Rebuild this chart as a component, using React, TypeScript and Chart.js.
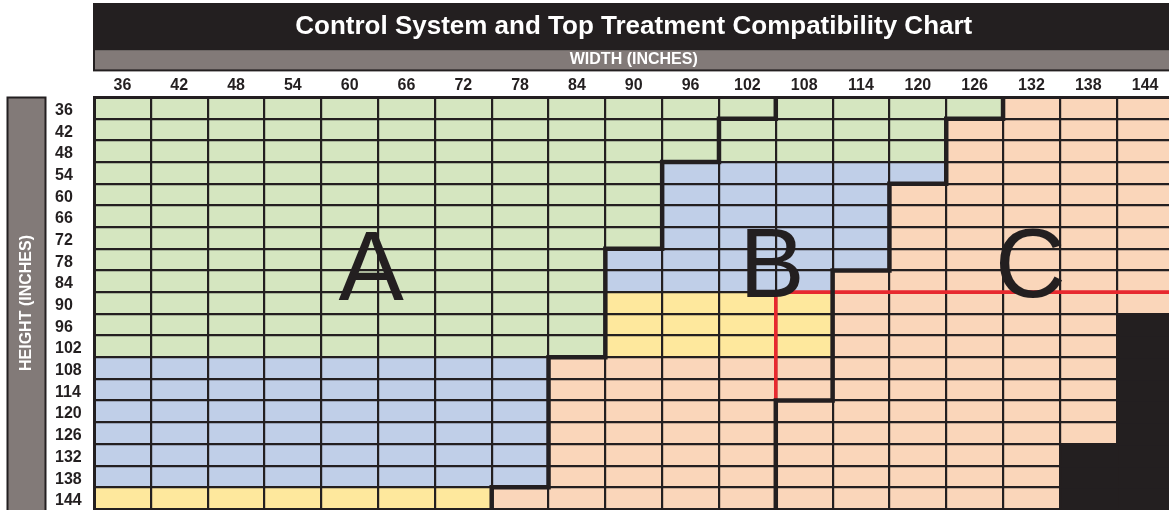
import React, { useEffect, useRef } from 'react';
import { Chart, registerables } from 'chart.js';

Chart.register(...registerables);

// ---- data ----
const widthLabels = [36, 42, 48, 54, 60, 66, 72, 78, 84, 90, 96, 102, 108, 114, 120, 126, 132, 138, 144];
const heightLabels = [36, 42, 48, 54, 60, 66, 72, 78, 84, 90, 96, 102, 108, 114, 120, 126, 132, 138, 144];

// One string per height row, one letter per width column.
// G = green, B = blue, Y = yellow, O = peach, K = black (not available)
const rowZones = [
  'GGGGGGGGGGGGGGGGOOO', // 36
  'GGGGGGGGGGGGGGGOOOO', // 42
  'GGGGGGGGGGGGGGGOOOO', // 48
  'GGGGGGGGGGBBBBBOOOO', // 54
  'GGGGGGGGGGBBBBOOOOO', // 60
  'GGGGGGGGGGBBBBOOOOO', // 66
  'GGGGGGGGGGBBBBOOOOO', // 72
  'GGGGGGGGGBBBBBOOOOO', // 78
  'GGGGGGGGGBBBBOOOOOO', // 84
  'GGGGGGGGGYYYYOOOOOO', // 90
  'GGGGGGGGGYYYYOOOOOK', // 96
  'GGGGGGGGGYYYYOOOOOK', // 102
  'BBBBBBBBOOOOOOOOOOK', // 108
  'BBBBBBBBOOOOOOOOOOK', // 114
  'BBBBBBBBOOOOOOOOOOK', // 120
  'BBBBBBBBOOOOOOOOOOK', // 126
  'BBBBBBBBOOOOOOOOOKK', // 132
  'BBBBBBBBOOOOOOOOOKK', // 138
  'YYYYYYYOOOOOOOOOOKK', // 144
];

// Zone boundaries as [column boundary index, row boundary index]
const boundaryAB = [[12, 0], [12, 1], [11, 1], [11, 3], [10, 3], [10, 7], [9, 7], [9, 12], [8, 12], [8, 18], [7, 18], [7, 19]];
const boundaryBC = [[16, 0], [16, 1], [15, 1], [15, 4], [14, 4], [14, 8], [13, 8], [13, 14], [12, 14], [12, 19]];
const redDivider = [[19, 9], [12, 9], [12, 14]];

// Zone letters: column index (fractional), row boundary value at baseline
const zoneLetterText = ['A', 'B', 'C'];
const zoneLetterCol = [4.38, 11.43, 15.98];
const zoneLetterRow = [9.36, 9.22, 9.22];

const zoneColors: Record<string, string> = {
  G: '#d5e6c0',
  B: '#c0cfe8',
  Y: '#fee89d',
  O: '#fad6ba',
  K: '#231f20',
};

const DARK = '#231f20';
const GREY = '#827a78';
const RED = '#e7292f';
const FAMILY = '"Liberation Sans", Arial, Helvetica, sans-serif';

const decorPlugin = {
  id: 'decor',
  beforeDraw(chart: any) {
    const { ctx, chartArea, width, height } = chart;
    ctx.save();
    // header band
    ctx.fillStyle = DARK;
    ctx.fillRect(chartArea.left - 1, 3, width, 68.4);
    ctx.fillStyle = GREY;
    ctx.fillRect(chartArea.left + 1, 50.2, width, 19.2);
    // left axis box
    ctx.fillStyle = DARK;
    ctx.fillRect(6.5, chartArea.top - 0.5, 40, height);
    ctx.fillStyle = GREY;
    ctx.fillRect(8.5, chartArea.top + 1.5, 36, height);
    ctx.restore();
  },
  afterDraw(chart: any) {
    const { ctx, chartArea } = chart;
    const xs = chart.scales.x;
    const ys = chart.scales.y;
    const px = (c: number) => xs.getPixelForValue(c - 0.5);
    const py = (r: number) => ys.getPixelForValue(r);
    ctx.save();
    ctx.beginPath();
    ctx.rect(chartArea.left, chartArea.top, chartArea.right - chartArea.left, chartArea.bottom - chartArea.top + 4);
    ctx.clip();

    const drawPath = (pts: number[][], color: string, lw: number) => {
      ctx.beginPath();
      pts.forEach((p, i) => {
        const X = px(p[0]);
        const Y = py(p[1]);
        if (i === 0) ctx.moveTo(X, Y);
        else ctx.lineTo(X, Y);
      });
      ctx.strokeStyle = color;
      ctx.lineWidth = lw;
      ctx.lineJoin = 'miter';
      ctx.lineCap = 'square';
      ctx.stroke();
    };
    drawPath(redDivider, RED, 3.6);
    drawPath(boundaryAB, DARK, 4.5);
    drawPath(boundaryBC, DARK, 4.5);

    ctx.fillStyle = DARK;
    ctx.font = `98px ${FAMILY}`;
    ctx.textAlign = 'center';
    ctx.textBaseline = 'alphabetic';
    zoneLetterText.forEach((t, i) => {
      ctx.fillText(t, xs.getPixelForValue(zoneLetterCol[i]), py(zoneLetterRow[i]));
    });
    ctx.restore();
  },
};

export default function App() {
  const ref = useRef<HTMLCanvasElement>(null);

  useEffect(() => {
    if (!ref.current) return;
    const datasets = heightLabels.map((h, r) => ({
      label: String(h),
      data: widthLabels.map(() => 1),
      backgroundColor: rowZones[r].split('').map((c) => zoneColors[c]),
      borderWidth: 0,
      barPercentage: 1,
      categoryPercentage: 1,
    }));

    const chart = new Chart(ref.current, {
      type: 'bar',
      data: { labels: widthLabels.map(String), datasets },
      plugins: [decorPlugin],
      options: {
        animation: false,
        responsive: false,
        devicePixelRatio: 1,
        layout: { padding: { top: 3, left: 55, right: 6.5, bottom: 3 } },
        font: { family: FAMILY },
        plugins: {
          legend: { display: false },
          tooltip: { enabled: false },
          title: {
            display: true,
            text: 'Control System and Top Treatment Compatibility Chart',
            color: '#ffffff',
            font: { size: 26, weight: 'bold', family: FAMILY, lineHeight: 1.2 },
            padding: { top: 8, bottom: 8 },
            fullSize: false,
          },
          subtitle: {
            display: true,
            text: 'WIDTH (INCHES)',
            color: '#ffffff',
            font: { size: 16, weight: 'bold', family: FAMILY, lineHeight: 1.2 },
            padding: { top: 0, bottom: 2 },
            fullSize: false,
          },
        },
        scales: {
          x: {
            type: 'category',
            position: 'top',
            stacked: true,
            offset: true,
            grid: { display: true, offset: true, color: DARK, lineWidth: 2.2, drawTicks: false, z: 1 },
            border: { display: true, color: DARK, width: 3, z: 1 },
            ticks: {
              color: DARK,
              font: { size: 16, weight: 'bold', family: FAMILY },
              padding: 1.5,
              autoSkip: false,
              maxRotation: 0,
            },
            afterFit: (s: any) => {
              s.height = 25.6;
              s.paddingLeft = 0;
              s.paddingRight = 0;
            },
          },
          y: {
            type: 'linear',
            reverse: true,
            stacked: true,
            min: 0,
            max: 19,
            grid: { color: DARK, lineWidth: 2.2, drawTicks: false, z: 1 },
            border: { display: true, color: DARK, width: 3, z: 1 },
            ticks: {
              stepSize: 1,
              autoSkip: false,
              crossAlign: 'far',
              labelOffset: 13.5,
              color: DARK,
              font: { size: 16, weight: 'bold', family: FAMILY },
              callback: (v: any) => {
                const l = heightLabels[Math.round(Number(v))];
                return l === undefined ? '' : String(l);
              },
            },
            title: {
              display: true,
              text: 'HEIGHT (INCHES)',
              color: '#ffffff',
              font: { size: 16, weight: 'bold', family: FAMILY, lineHeight: 1.2 },
              padding: { top: -37.6, bottom: 0 },
            },
            afterFit: (s: any) => {
              s.width = 39;
              s.paddingTop = 0;
              s.paddingBottom = 0;
            },
          },
        },
      } as any,
    });
    return () => chart.destroy();
  }, []);

  return (
    <div
      style={{
        position: 'absolute',
        left: 0,
        top: 0,
        width: 1169,
        height: 510,
        overflow: 'hidden',
        background: '#ffffff',
      }}
    >
      <canvas ref={ref} width={1180} height={512} style={{ display: 'block' }} />
    </div>
  );
}
